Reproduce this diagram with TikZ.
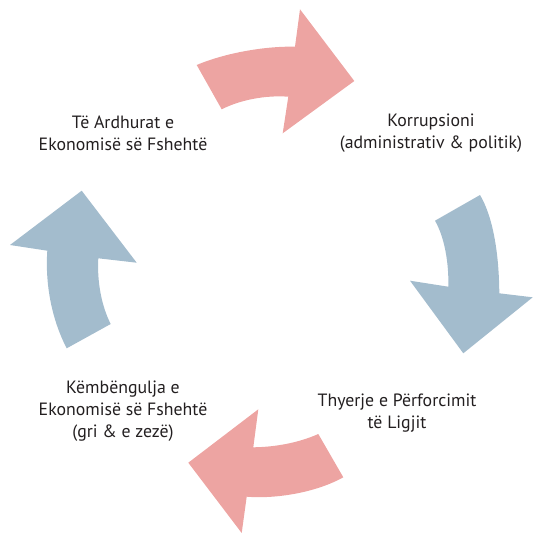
\documentclass[tikz,border=0pt]{standalone}
\usepackage{fontspec}
\setmainfont{PT Sans}
\usepackage{tikz}
\usetikzlibrary{calc}
\definecolor{arrpink}{RGB}{237,164,162}
\definecolor{arrblue}{RGB}{163,188,205}
\definecolor{txtgray}{RGB}{35,31,32}
\tikzset{
  lbl/.style={align=center, text=txtgray, font=\fontsize{17.8}{22}\selectfont, inner sep=0pt},
  pinkarr/.style={fill=arrpink},
  bluearr/.style={fill=arrblue}
}
\begin{document}
\begin{tikzpicture}[x=1pt,y=-1pt]
\useasboundingbox (0,0) rectangle (533,533);

% top arrow
\fill[pinkarr](196.7,65) .. controls (225,53) and (265,46) .. (295,46.7)
  --(300,9.3)--(354.3,81)--(282.7,133.3)--(288.3,96.7)
  .. controls (265,95) and (240,100) .. (221.7,109.3)--cycle;
% right arrow
\fill[bluearr](480,195) .. controls (492,215) and (499,250) .. (499.3,293.3)
  --(532.7,297.3)--(463.3,353.3)--(410,280.7)--(448.3,286.7)
  .. controls (449,265) and (445,238) .. (435,220.7)--cycle;
% bottom arrow
\fill[pinkarr](318.3,434) .. controls (298,443) and (275,447) .. (253.3,447.3)
  --(258.3,409.3)--(188.3,462.7)--(241.7,533)--(246.7,496.7)
  .. controls (275,499) and (315,493) .. (343.3,477.3)--cycle;
% left arrow
\fill[bluearr](110.7,324) .. controls (101,305) and (97,280) .. (98.3,258.3)
  --(136.7,262.7)--(81.7,190.7)--(10,245)--(47.3,250.7)
  .. controls (45,285) and (52,320) .. (66.7,348.3)--cycle;

\node[lbl](ardhurat) at (123,133) {Të Ardhurat e\\Ekonomisë së Fshehtë};
\node[lbl](korrupsioni) at (431,133) {Korrupsioni\\(administrativ \& politik)};
\node[lbl](thyerje) at (397,413) {Thyerje e Përforcimit\\të Ligjit};
\node[lbl](kembengulja) at (123,411) {Këmbëngulja e\\Ekonomisë së Fshehtë\\(gri \& e zezë)};

\end{tikzpicture}
\end{document}
